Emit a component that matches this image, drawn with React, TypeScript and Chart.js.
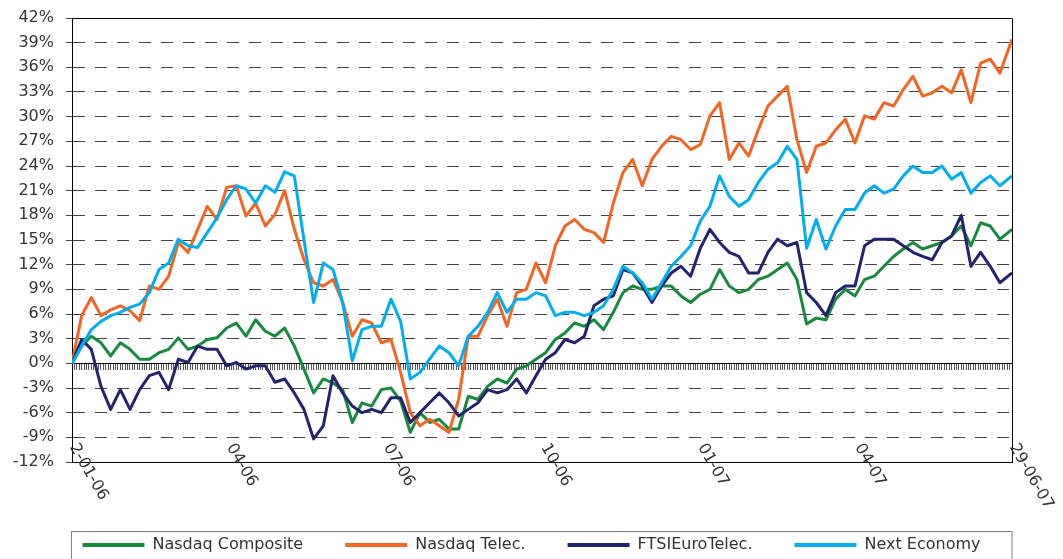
import React, { useEffect, useRef } from "react";
import { Chart, registerables } from "chart.js";

Chart.register(...registerables);

// Trading-day index (0 = 2-01-06, 389 = 29-06-07)
const days = [
  0, 4, 8, 12, 16, 20, 24, 28, 32, 36, 40, 44, 48, 52, 56, 60, 64, 68, 72, 76,
  80, 84, 88, 92, 96, 100, 104, 108, 112, 116, 120, 124, 128, 132, 136, 140, 144, 148, 152, 156,
  160, 164, 168, 172, 176, 180, 184, 188, 192, 196, 200, 204, 208, 212, 216, 220, 224, 228, 232, 236,
  240, 244, 248, 252, 256, 260, 264, 268, 272, 276, 280, 284, 288, 292, 296, 300, 304, 308, 312, 316,
  320, 324, 328, 332, 336, 340, 344, 348, 352, 356, 360, 364, 368, 372, 376, 380, 384, 389,
];

const nasdaqComposite = [
  0, 2.1, 3.3, 2.5, 0.9, 2.5, 1.7, 0.5, 0.5, 1.3, 1.7, 3.1, 1.7, 2.1, 2.9, 3.1, 4.3, 4.9, 3.3, 5.3,
  3.9, 3.3, 4.3, 2.1, -0.7, -3.6, -1.9, -2.4, -3.2, -7.2, -4.8, -5.2, -3.2, -3.0, -4.6, -8.4, -6.0, -7.2, -6.8, -8.0,
  -8.0, -4.0, -4.4, -2.8, -1.9, -2.4, -0.7, -0.3, 0.5, 1.3, 2.9, 3.7, 4.9, 4.5, 5.3, 4.1, 6.2, 8.6, 9.4, 9.0,
  9.0, 9.4, 9.4, 8.2, 7.4, 8.4, 9.0, 11.4, 9.4, 8.6, 9.0, 10.2, 10.6, 11.4, 12.2, 10.2, 4.8, 5.5, 5.3, 7.8,
  9.0, 8.2, 10.2, 10.6, 11.8, 13.0, 13.9, 14.7, 13.9, 14.3, 14.7, 15.5, 16.7, 14.3, 17.1, 16.7, 15.1, 16.3,
];

const nasdaqTelec = [
  0, 5.8, 8.0, 5.8, 6.5, 7.0, 6.4, 5.2, 9.4, 9.0, 10.6, 14.7, 13.5, 16.3, 19.1, 17.5, 21.4, 21.6, 17.9, 19.5,
  16.7, 18.1, 21.0, 16.3, 12.6, 9.8, 9.4, 10.2, 7.4, 3.3, 5.3, 4.9, 2.5, 2.9, -1.1, -6.0, -7.6, -6.8, -7.6, -8.4,
  -4.4, 3.3, 3.3, 5.8, 7.8, 4.5, 8.6, 9.0, 12.2, 9.8, 14.3, 16.7, 17.5, 16.3, 15.9, 14.7, 19.5, 23.2, 24.8, 21.6,
  24.8, 26.4, 27.6, 27.2, 26.0, 26.6, 30.1, 31.7, 24.8, 26.8, 25.2, 28.4, 31.3, 32.5, 33.7, 27.2, 23.2, 26.4, 26.8, 28.4,
  29.7, 26.8, 30.1, 29.7, 31.7, 31.3, 33.3, 34.9, 32.5, 32.9, 33.7, 32.9, 35.7, 31.7, 36.5, 37.0, 35.3, 39.4,
];

const ftsiEuroTelec = [
  0, 2.9, 1.7, -2.8, -5.6, -3.2, -5.6, -3.2, -1.5, -1.1, -3.2, 0.5, 0.1, 2.1, 1.7, 1.7, -0.3, 0.1, -0.7, -0.3,
  -0.3, -2.3, -1.9, -3.6, -5.6, -9.2, -7.6, -1.5, -3.6, -5.2, -6.0, -5.6, -6.0, -4.2, -4.2, -7.2, -6.0, -4.8, -3.6, -4.8,
  -6.4, -5.6, -4.8, -3.2, -3.6, -3.2, -1.9, -3.6, -1.5, 0.5, 1.3, 2.9, 2.5, 3.3, 7.0, 7.8, 8.2, 11.4, 11.0, 9.4,
  7.4, 9.4, 11.0, 11.8, 10.6, 14.0, 16.3, 14.7, 13.5, 13.0, 11.0, 11.0, 13.5, 15.1, 14.3, 14.7, 8.6, 7.4, 5.8, 8.6,
  9.4, 9.4, 14.3, 15.1, 15.1, 15.1, 14.3, 13.5, 13.0, 12.6, 14.7, 15.5, 18.0, 11.8, 13.5, 11.8, 9.8, 11.0,
];

const nextEconomy = [
  0, 2.1, 4.1, 5.1, 5.8, 6.2, 6.8, 7.2, 8.6, 11.4, 12.2, 15.1, 14.3, 14.1, 15.9, 17.7, 19.9, 21.6, 21.2, 19.5,
  21.6, 20.8, 23.3, 22.8, 15.0, 7.4, 12.2, 11.4, 7.4, 0.3, 4.1, 4.5, 4.5, 7.8, 5.1, -1.9, -1.1, 0.5, 2.1, 1.3,
  -0.3, 3.3, 4.5, 6.2, 8.6, 6.2, 7.8, 7.8, 8.6, 8.2, 5.8, 6.2, 6.2, 5.8, 6.2, 7.0, 9.0, 11.8, 11.0, 9.8,
  7.8, 9.8, 11.8, 13.0, 14.3, 17.3, 19.1, 22.8, 20.3, 19.1, 19.9, 22.0, 23.6, 24.4, 26.4, 24.8, 14.0, 17.5, 13.9, 16.7,
  18.7, 18.7, 20.7, 21.6, 20.7, 21.2, 22.8, 24.0, 23.2, 23.2, 24.0, 22.4, 23.2, 20.7, 22.0, 22.8, 21.6, 22.8,
];

const seriesNames = ["Nasdaq Composite", "Nasdaq Telec.", "FTSIEuroTelec.", "Next Economy"];
const seriesColors = ["#178a3e", "#f36523", "#24246e", "#00aeef"];

const xTickDays = [0, 65, 130, 195, 260, 325, 389];
const xTickLabels = ["2-01-06", "04-06", "07-06", "10-06", "01-07", "04-07", "29-06-07"];

const yMin = -12;
const yMax = 42;
const yStep = 3;
const dayMin = 0;
const dayMax = 389;

const FONT = "'DejaVu Sans', sans-serif";
const TEXT = "#333333";
const LEGEND_PADDING = 42;
const CANVAS_H = 563;
const PLOT_BOTTOM = 462;

const decorPlugin = {
  id: "decor",
  afterDatasetsDraw(chart: any) {
    const { ctx, chartArea: ca, scales } = chart;
    ctx.save();
    // plot frame (top and right)
    ctx.strokeStyle = "#000";
    ctx.lineWidth = 1;
    ctx.beginPath();
    ctx.moveTo(ca.left, Math.round(ca.top) + 0.5);
    ctx.lineTo(Math.round(ca.right) + 0.5, Math.round(ca.top) + 0.5);
    ctx.lineTo(Math.round(ca.right) + 0.5, Math.round(ca.bottom) + 0.5);
    ctx.stroke();
    // rotated category labels
    ctx.fillStyle = TEXT;
    ctx.font = "16px " + FONT;
    ctx.textAlign = "left";
    ctx.textBaseline = "top";
    xTickLabels.forEach((lab, i) => {
      const px = scales.x.getPixelForValue(xTickDays[i]);
      ctx.save();
      ctx.translate(px + 8, ca.bottom - 21);
      ctx.rotate((60 * Math.PI) / 180);
      ctx.fillText(lab, 0, 0);
      ctx.restore();
    });
    ctx.restore();
  },
  afterDraw(chart: any) {
    const { ctx, chartArea: ca, legend } = chart;
    if (!legend) return;
    ctx.save();
    ctx.strokeStyle = "#808080";
    ctx.lineWidth = 1;
    const top = Math.round(legend.top + LEGEND_PADDING - 6) + 0.5;
    ctx.strokeRect(Math.round(ca.left) - 0.5, top, Math.round(ca.right - ca.left) + 0.5, chart.height + 20);
    ctx.restore();
  },
};

export default function App() {
  const ref = useRef<HTMLCanvasElement | null>(null);

  useEffect(() => {
    document.body.style.margin = "0";
    document.body.style.overflow = "hidden";
    const canvas = ref.current;
    if (!canvas) return;
    const orders = [3, 2, 1, 0];
    const series = [nasdaqComposite, nasdaqTelec, ftsiEuroTelec, nextEconomy];
    const legendHeight = 16 + LEGEND_PADDING + 10;
    const chart = new Chart(canvas, {
      type: "line",
      data: {
        datasets: series.map((vals, i) => ({
          label: seriesNames[i],
          data: days.map((d, j) => ({ x: d, y: vals[j] })),
          borderColor: seriesColors[i],
          backgroundColor: seriesColors[i],
          borderWidth: 3,
          pointRadius: 0,
          tension: 0,
          borderJoinStyle: "round",
          order: orders[i],
        })),
      },
      options: {
        animation: false,
        responsive: false,
        devicePixelRatio: 1,
        layout: { padding: { left: 0, right: 0, top: 18, bottom: 0 } },
        plugins: {
          tooltip: { enabled: false },
          legend: {
            position: "bottom",
            labels: {
              font: { family: FONT, size: 16 },
              color: TEXT,
              boxWidth: 62,
              boxHeight: 4,
              padding: LEGEND_PADDING,
              generateLabels: (c: any) =>
                Chart.defaults.plugins.legend.labels
                  .generateLabels(c)
                  .map((l: any) => ({ ...l, lineWidth: 0 }))
                  .sort((a: any, b: any) => a.datasetIndex - b.datasetIndex),
            },
          },
        },
        scales: {
          x: {
            type: "linear",
            position: "bottom",
            min: dayMin,
            max: dayMax,
            ticks: { display: false },
            grid: { display: false, drawTicks: false },
            border: { display: true, color: "#000", width: 1 },
            afterFit: (s: any) => {
              s.height = CANVAS_H - legendHeight - PLOT_BOTTOM;
            },
          },
          x0: {
            type: "linear",
            axis: "x",
            position: { y: 0 },
            min: dayMin,
            max: dayMax,
            ticks: { display: false, stepSize: 1 },
            grid: { drawOnChartArea: false, drawTicks: true, tickLength: 6, color: "#555", lineWidth: 1 },
            border: { display: true, color: "#000", width: 1 },
          },
          y: {
            type: "linear",
            position: "left",
            min: yMin,
            max: yMax,
            ticks: {
              stepSize: yStep,
              padding: 12,
              color: TEXT,
              font: { family: FONT, size: 16 },
              callback: (v: any) => v + "%",
            },
            grid: { color: "#444", lineWidth: 1, drawTicks: true, tickLength: 6 },
            border: { display: true, color: "#000", width: 1, dash: [12, 10] },
            afterFit: (s: any) => {
              s.width = 72;
              s.paddingTop = 0;
              s.paddingBottom = 0;
            },
          },
          yR: {
            type: "linear",
            position: "right",
            min: yMin,
            max: yMax,
            ticks: { display: false },
            grid: { display: false, drawTicks: false },
            border: { display: false },
            afterFit: (s: any) => {
              s.width = 51;
              s.paddingTop = 0;
              s.paddingBottom = 0;
            },
          },
        },
      },
      plugins: [decorPlugin],
    });
    return () => chart.destroy();
  }, []);

  return <canvas ref={ref} width={1063} height={CANVAS_H} style={{ display: "block" }} />;
}
